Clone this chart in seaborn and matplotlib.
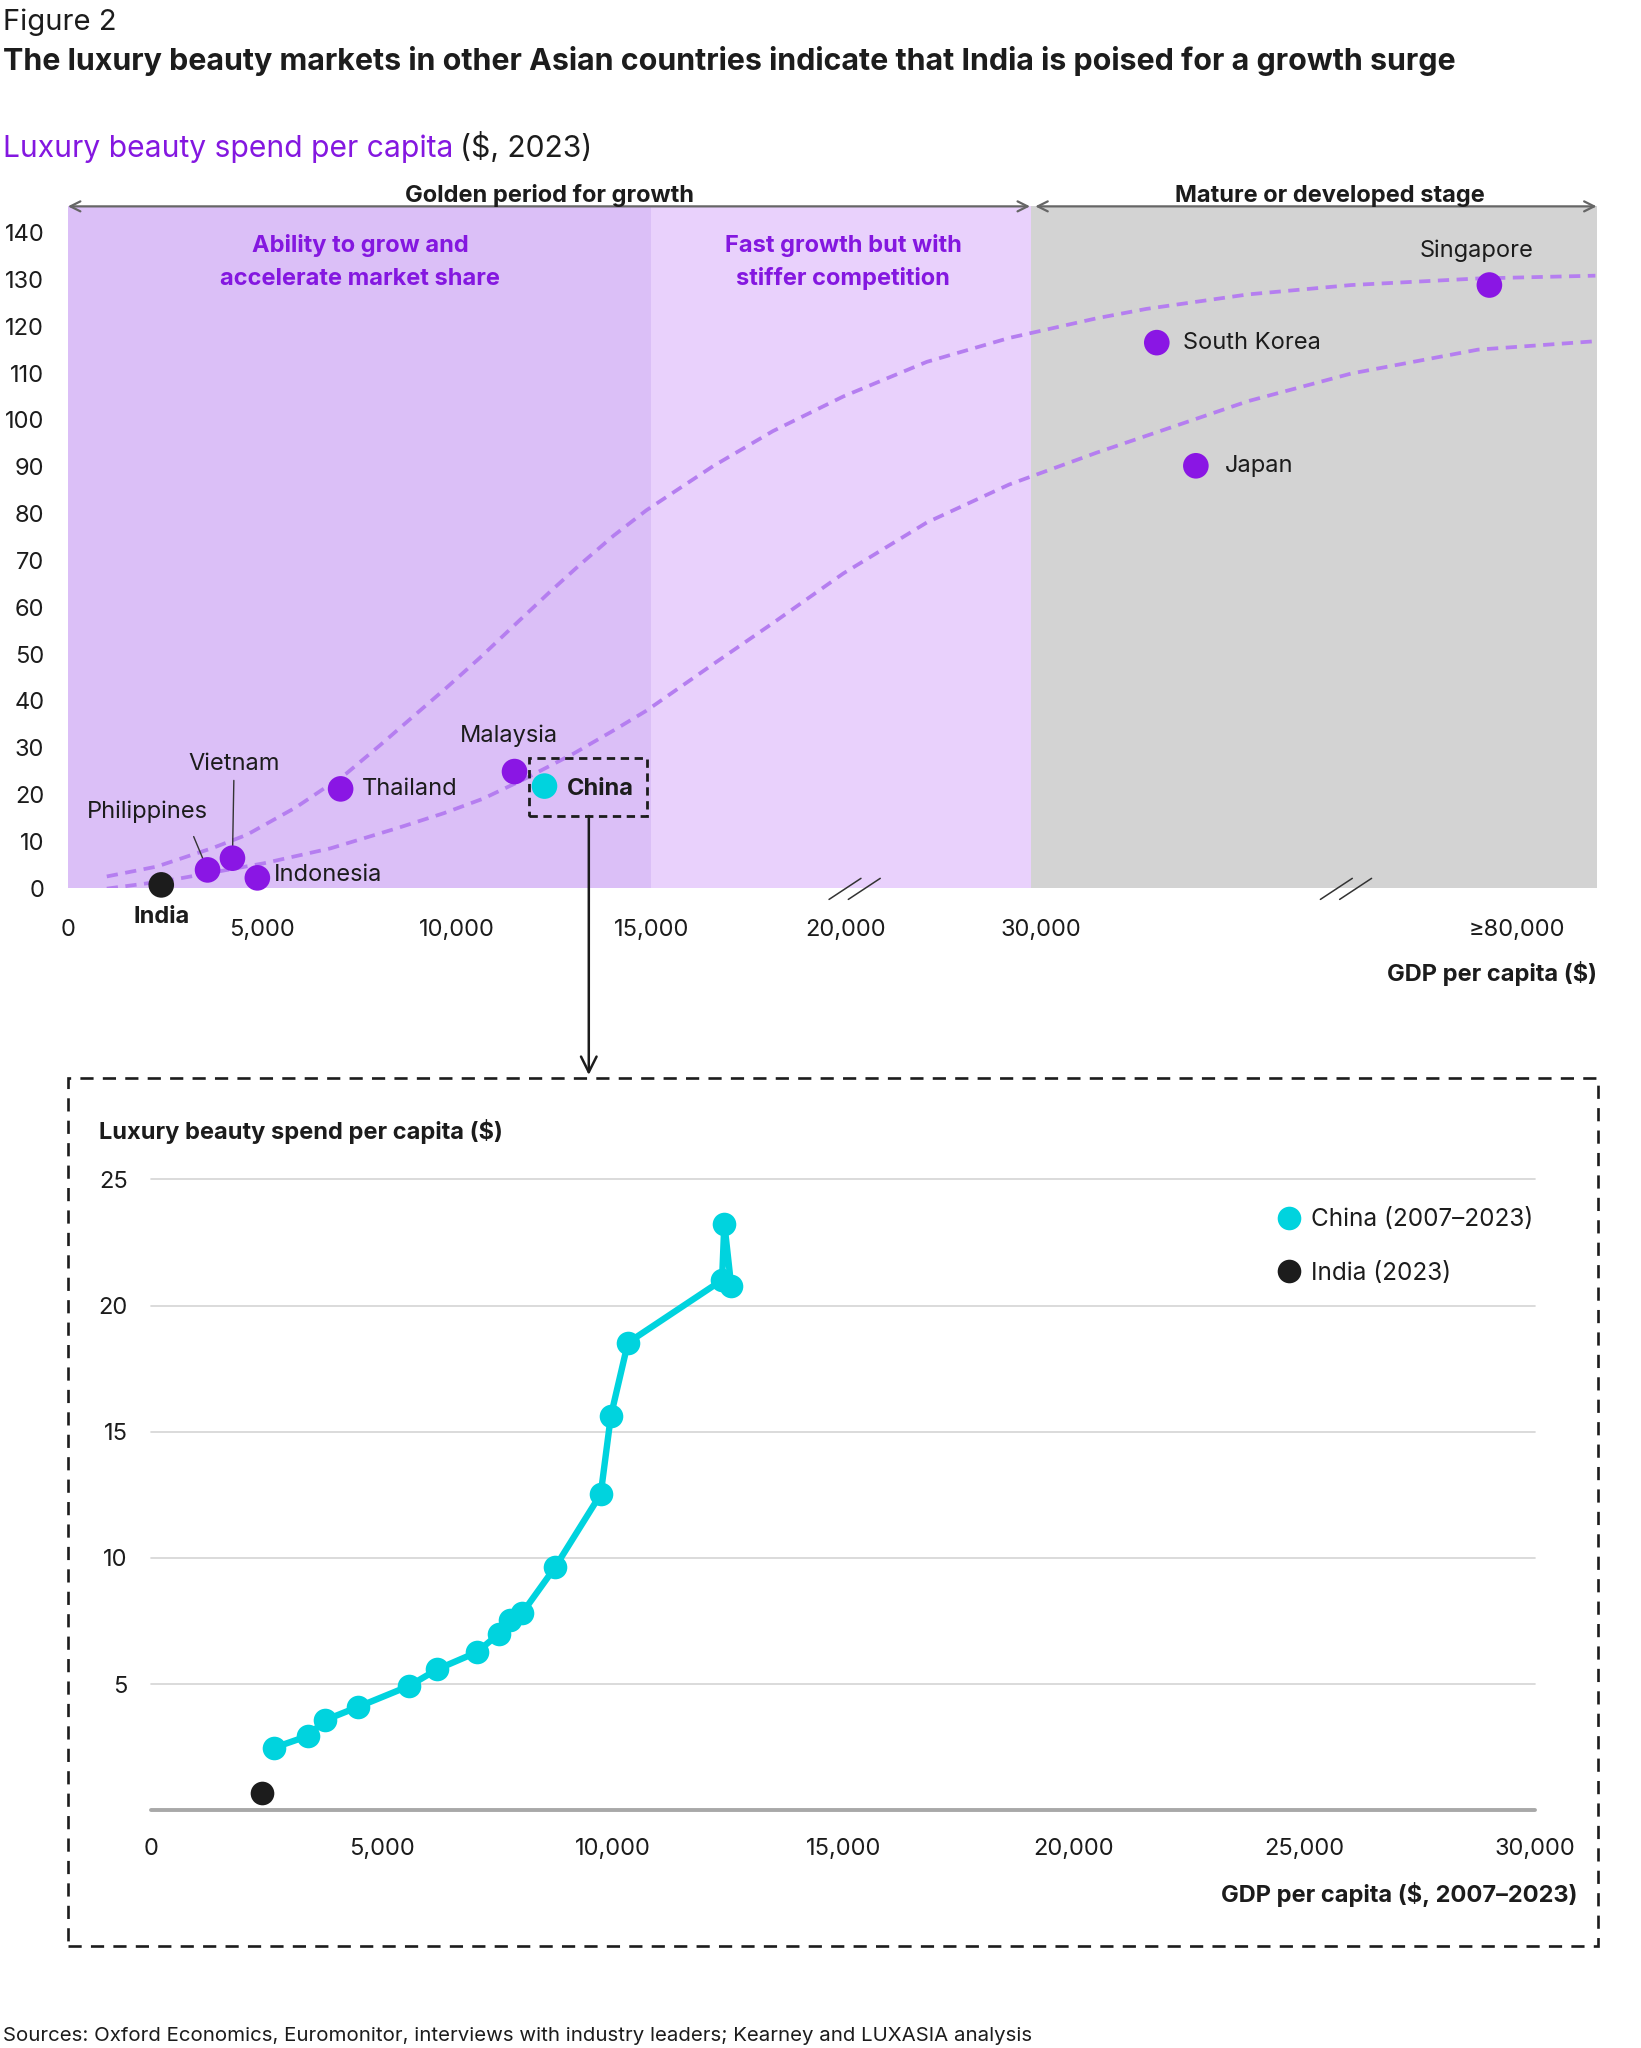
import numpy as np
import pandas as pd
import matplotlib
matplotlib.use("Agg")
import matplotlib.pyplot as plt
from matplotlib.lines import Line2D
from matplotlib.patches import Rectangle
import seaborn as sns

# Dane: wydatki na luksusowe kosmetyki per capita vs PKB per capita (2023)
countries = ["India", "Philippines", "Vietnam", "Indonesia", "Thailand", "Malaysia",
             "China", "South Korea", "Japan", "Singapore"]
gdp_2023 = [2400, 3590, 4230, 4870, 7010, 11480, 12250, 42200, 46300, 77100]
spend_2023 = [0.7, 3.9, 6.4, 2.2, 21.2, 24.9, 21.8, 116.5, 90.2, 128.8]

# Krzywe trendu
upper_gdp = [1000, 2280, 3730, 4600, 5870, 7160, 8020, 8880, 9730, 10590, 11610, 12380,
             13150, 14030, 14870, 16580, 18120, 19930, 24160, 28390, 35890, 41100,
             51780, 62600, 75890, 88220]
upper_spend = [2.5, 4.6, 8.6, 11.4, 17.3, 24.5, 30.5, 36.7, 42.8, 49.2, 57.2, 63.2,
               69.0, 75.3, 80.7, 90.1, 97.6, 105.0, 112.4, 117.5, 121.7, 123.7,
               126.8, 128.8, 130.2, 130.8]
lower_gdp = [1000, 2010, 2890, 5030, 6750, 8460, 9660, 10670, 11710, 12990, 14030,
             14870, 16580, 18120, 19930, 24160, 28390, 35890, 41100, 51780, 62600,
             75890, 88220]
lower_spend = [-0.1, 1.0, 2.1, 5.3, 8.5, 12.8, 16.0, 19.1, 23.2, 28.7, 33.7,
               37.9, 47.8, 56.6, 67.2, 78.1, 86.2, 93.0, 96.6, 104.0, 109.9,
               115.0, 116.8]

# Chiny 2007-2023 i Indie 2023 (dolny wykres)
china_gdp = [2660, 3400, 3760, 4470, 5580, 6200, 7050, 7530, 7780, 8040, 8750,
             9740, 9960, 10330, 12370, 12420, 12570]
china_spend = [2.48, 2.95, 3.57, 4.09, 4.92, 5.59, 6.26, 6.99, 7.56, 7.82, 9.63,
               12.53, 15.63, 18.53, 21.01, 23.24, 20.76]
india_gdp = [2400]
india_spend = [0.7]

top_xticks = [0, 5000, 10000, 15000, 20000, 30000, 80000]
top_xlabels = ["0", "5,000", "10,000", "15,000", "20,000", "30,000", "\u226580,000"]
top_yticks = list(range(0, 141, 10))
bottom_xticks = [0, 5000, 10000, 15000, 20000, 25000, 30000]
bottom_yticks = [5, 10, 15, 20, 25]

PURPLE = "#8a16e4"
PURPLE_TXT = "#8417e0"
CYAN = "#00d3de"
INK = "#1c1c1c"
CURVE = "#b57ef0"

sns.set_theme(style="white")
plt.rcParams["font.family"] = ["Inter", "DejaVu Sans"]
plt.rcParams["text.color"] = INK

W, H = 1257.0, 1568.0


def fx(px):
    return px / W


def fy(py):
    return 1 - py / H


fig = plt.figure(figsize=(16.41, 20.48), dpi=100)

# Os X z przerwami: przedzialy liniowe
GDP_KNOTS = [-20000, 0, 20000, 30000, 80000, 180000]
POS_KNOTS = [-596, 0, 596, 745, 1110, 1840]


def forward(x):
    return np.interp(x, GDP_KNOTS, POS_KNOTS)


def inverse(p):
    return np.interp(p, POS_KNOTS, GDP_KNOTS)


ax = fig.add_axes([fx(52), fy(680), fx(1223) - fx(52), fy(158) - fy(680)])
ax.set_xscale("function", functions=(forward, inverse))
ax.set_xlim(0, 88350)
ax.set_ylim(0, 145.6)

ax.axvspan(0, 15000, color="#dbbff7", lw=0, zorder=0)
ax.axvspan(15000, 29500, color="#e9d1fc", lw=0, zorder=0)
ax.axvspan(29500, 88350, color="#d3d3d3", lw=0, zorder=0)

sns.lineplot(x=upper_gdp, y=upper_spend, sort=False, ax=ax, color=CURVE, lw=2.7,
             linestyle=(0, (3, 2)), zorder=2)
sns.lineplot(x=lower_gdp, y=lower_spend, sort=False, ax=ax, color=CURVE, lw=2.7,
             linestyle=(0, (3, 2)), zorder=2)

df = pd.DataFrame({"country": countries, "gdp": gdp_2023, "spend": spend_2023})
palette = {c: PURPLE for c in countries}
palette["India"] = INK
palette["China"] = CYAN
sns.scatterplot(data=df, x="gdp", y="spend", hue="country", palette=palette, s=340,
                linewidth=0, legend=False, ax=ax, zorder=5, clip_on=False)

for s in ax.spines.values():
    s.set_visible(False)
ax.set_xticks(top_xticks)
ax.set_xticklabels(top_xlabels)
ax.set_yticks(top_yticks)
ax.tick_params(axis="x", length=0, pad=22, labelsize=17, colors=INK)
ax.tick_params(axis="y", length=0, pad=17, labelsize=17, colors=INK)
ax.set_xlabel("")
ax.set_ylabel("")

# Etykiety krajow
label_opts = {
    "India": dict(off=(0, -23), ha="center", va="center", weight="bold"),
    "Philippines": dict(off=(-43, 42), ha="center", va="center"),
    "Vietnam": dict(off=(1, 68), ha="center", va="center"),
    "Indonesia": dict(off=(12, 2), ha="left", va="center"),
    "Thailand": dict(off=(15, 0), ha="left", va="center"),
    "Malaysia": dict(off=(-4, 26), ha="center", va="center"),
    "China": dict(off=(16, -2), ha="left", va="center", weight="bold"),
    "South Korea": dict(off=(19, 0), ha="left", va="center"),
    "Japan": dict(off=(21, 0), ha="left", va="center"),
    "Singapore": dict(off=(-9, 25), ha="center", va="center"),
}
for c, g, v in zip(countries, gdp_2023, spend_2023):
    o = label_opts[c]
    ax.annotate(c, (g, v), xytext=o["off"], textcoords="offset points", ha=o["ha"],
                va=o["va"], fontsize=17, fontweight=o.get("weight", "normal"),
                color=INK, zorder=6, annotation_clip=False)

# linie odniesienia
ax.annotate("", xy=(gdp_2023[1], spend_2023[1]), xytext=(-10, 24), textcoords="offset points",
            arrowprops=dict(arrowstyle="-", color="#333333", lw=1.0, shrinkA=0, shrinkB=8.5))
ax.annotate("", xy=(gdp_2023[2], spend_2023[2]), xytext=(1, 56), textcoords="offset points",
            arrowprops=dict(arrowstyle="-", color="#333333", lw=1.0, shrinkA=0, shrinkB=8.5))

# ramka wokol Chin
ax.add_patch(Rectangle((11856, 15.4), 14873 - 11856, 27.7 - 15.4, fill=False, ec=INK,
                       lw=2.0, linestyle=(0, (3, 2)), zorder=4))
ax.annotate("", xy=(fx(451), fy(823)), xycoords="figure fraction", xytext=(13390, 15.4),
            textcoords="data",
            arrowprops=dict(arrowstyle="->", color=INK, lw=1.8, shrinkA=0, shrinkB=0,
                            mutation_scale=28))

# znaczniki przerwy osi
for x0 in (0.4979, 0.5105, 0.8193, 0.8319):
    ax.plot([x0, x0 + 0.0209], [-0.0165, 0.0144], transform=ax.transAxes, color="#333333",
            lw=1.1, clip_on=False, zorder=6)

# strzalki etapow
arrow_kw = dict(arrowstyle="<->", color="#666666", lw=1.6, shrinkA=0, shrinkB=0,
                mutation_scale=18)
ax.annotate("", xy=(0, 1), xytext=((789 - 52) / 1171, 1), xycoords="axes fraction",
            arrowprops=arrow_kw, annotation_clip=False)
ax.annotate("", xy=((793 - 52) / 1171, 1), xytext=(1, 1), xycoords="axes fraction",
            arrowprops=arrow_kw, annotation_clip=False)

fig.text(fx(421), fy(154.4), "Golden period for growth", ha="center", va="baseline",
         fontsize=17, fontweight="bold")
fig.text(fx(1019), fy(154.4), "Mature or developed stage", ha="center", va="baseline",
         fontsize=17, fontweight="bold")

for cx, lines in ((276, ["Ability to grow and", "accelerate market share"]),
                  (646, ["Fast growth but with", "stiffer competition"])):
    for ln, by in zip(lines, (192.7, 218.2)):
        fig.text(fx(cx), fy(by), ln, ha="center", va="baseline", fontsize=17,
                 fontweight="bold", color=PURPLE_TXT)

fig.text(fx(1223), fy(751), "GDP per capita ($)", ha="right", va="baseline", fontsize=17,
         fontweight="bold")

# Naglowki
fig.text(fx(2), fy(23), "Figure 2", ha="left", va="baseline", fontsize=21, fontweight="normal")
fig.text(fx(2), fy(53.6),
         "The luxury beauty markets in other Asian countries indicate that India is poised for a growth surge",
         ha="left", va="baseline", fontsize=21.9, fontweight="bold")
t1 = fig.text(fx(2), fy(120), "Luxury beauty spend per capita", ha="left", va="baseline",
              fontsize=21.6, color=PURPLE_TXT)
fig.canvas.draw()
bb = t1.get_window_extent()
fig.text(bb.x1 / fig.bbox.width + 0.004, fy(120), "($, 2023)", ha="left", va="baseline",
         fontsize=21.6, color=INK)

# Dolny wykres: Chiny 2007-2023
fig.add_artist(Rectangle((fx(52), fy(1490)), fx(1224) - fx(52), fy(825) - fy(1490),
                         transform=fig.transFigure, fill=False, ec=INK, lw=1.9,
                         linestyle=(0, (5, 3.5))))

ax2 = fig.add_axes([fx(116), fy(1386), fx(1176) - fx(116), fy(903) - fy(1386)])
ax2.set_xlim(0, 30000)
ax2.set_ylim(0, 25)
for yv in bottom_yticks:
    ax2.axhline(yv, color="#d4d4d4", lw=1.2, zorder=0, clip_on=False)
ax2.axhline(0, color="#a8a8a8", lw=2.8, zorder=1, clip_on=False)

sns.lineplot(x=china_gdp, y=china_spend, sort=False, ax=ax2, color=CYAN, lw=4.6,
             marker="o", markersize=17, markeredgewidth=0, zorder=3)
sns.scatterplot(x=india_gdp, y=india_spend, ax=ax2, color=INK, s=290, linewidth=0,
                zorder=4, clip_on=False)

for s in ax2.spines.values():
    s.set_visible(False)
ax2.set_xticks(bottom_xticks)
ax2.set_xticklabels([f"{v:,}" for v in bottom_xticks])
ax2.set_yticks(bottom_yticks)
ax2.tick_params(axis="x", length=0, pad=20, labelsize=17, colors=INK)
ax2.tick_params(axis="y", length=0, pad=17, labelsize=17, colors=INK)
ax2.set_xlabel("")
ax2.set_ylabel("")

handles = [Line2D([], [], marker="o", linestyle="", color=CYAN, markersize=17, markeredgewidth=0),
           Line2D([], [], marker="o", linestyle="", color=INK, markersize=17, markeredgewidth=0)]
ax2.legend(handles, ["China (2007\u20132023)", "India (2023)"], loc="upper left",
           bbox_to_anchor=((976 - 116) / 1060, (1386 - 925) / 483), frameon=False,
           fontsize=17.5, handletextpad=0.3, labelspacing=1.25, borderaxespad=0,
           handlelength=1.2, borderpad=0)

fig.text(fx(76), fy(872), "Luxury beauty spend per capita ($)", ha="left", va="baseline",
         fontsize=17, fontweight="bold")
fig.text(fx(1208), fy(1456), "GDP per capita ($, 2007\u20132023)", ha="right", va="baseline",
         fontsize=17, fontweight="bold")

fig.text(fx(2), fy(1563),
         "Sources: Oxford Economics, Euromonitor, interviews with industry leaders; Kearney and LUXASIA analysis",
         ha="left", va="baseline", fontsize=14.7, color=INK)

fig.savefig("out.png", dpi=100)
